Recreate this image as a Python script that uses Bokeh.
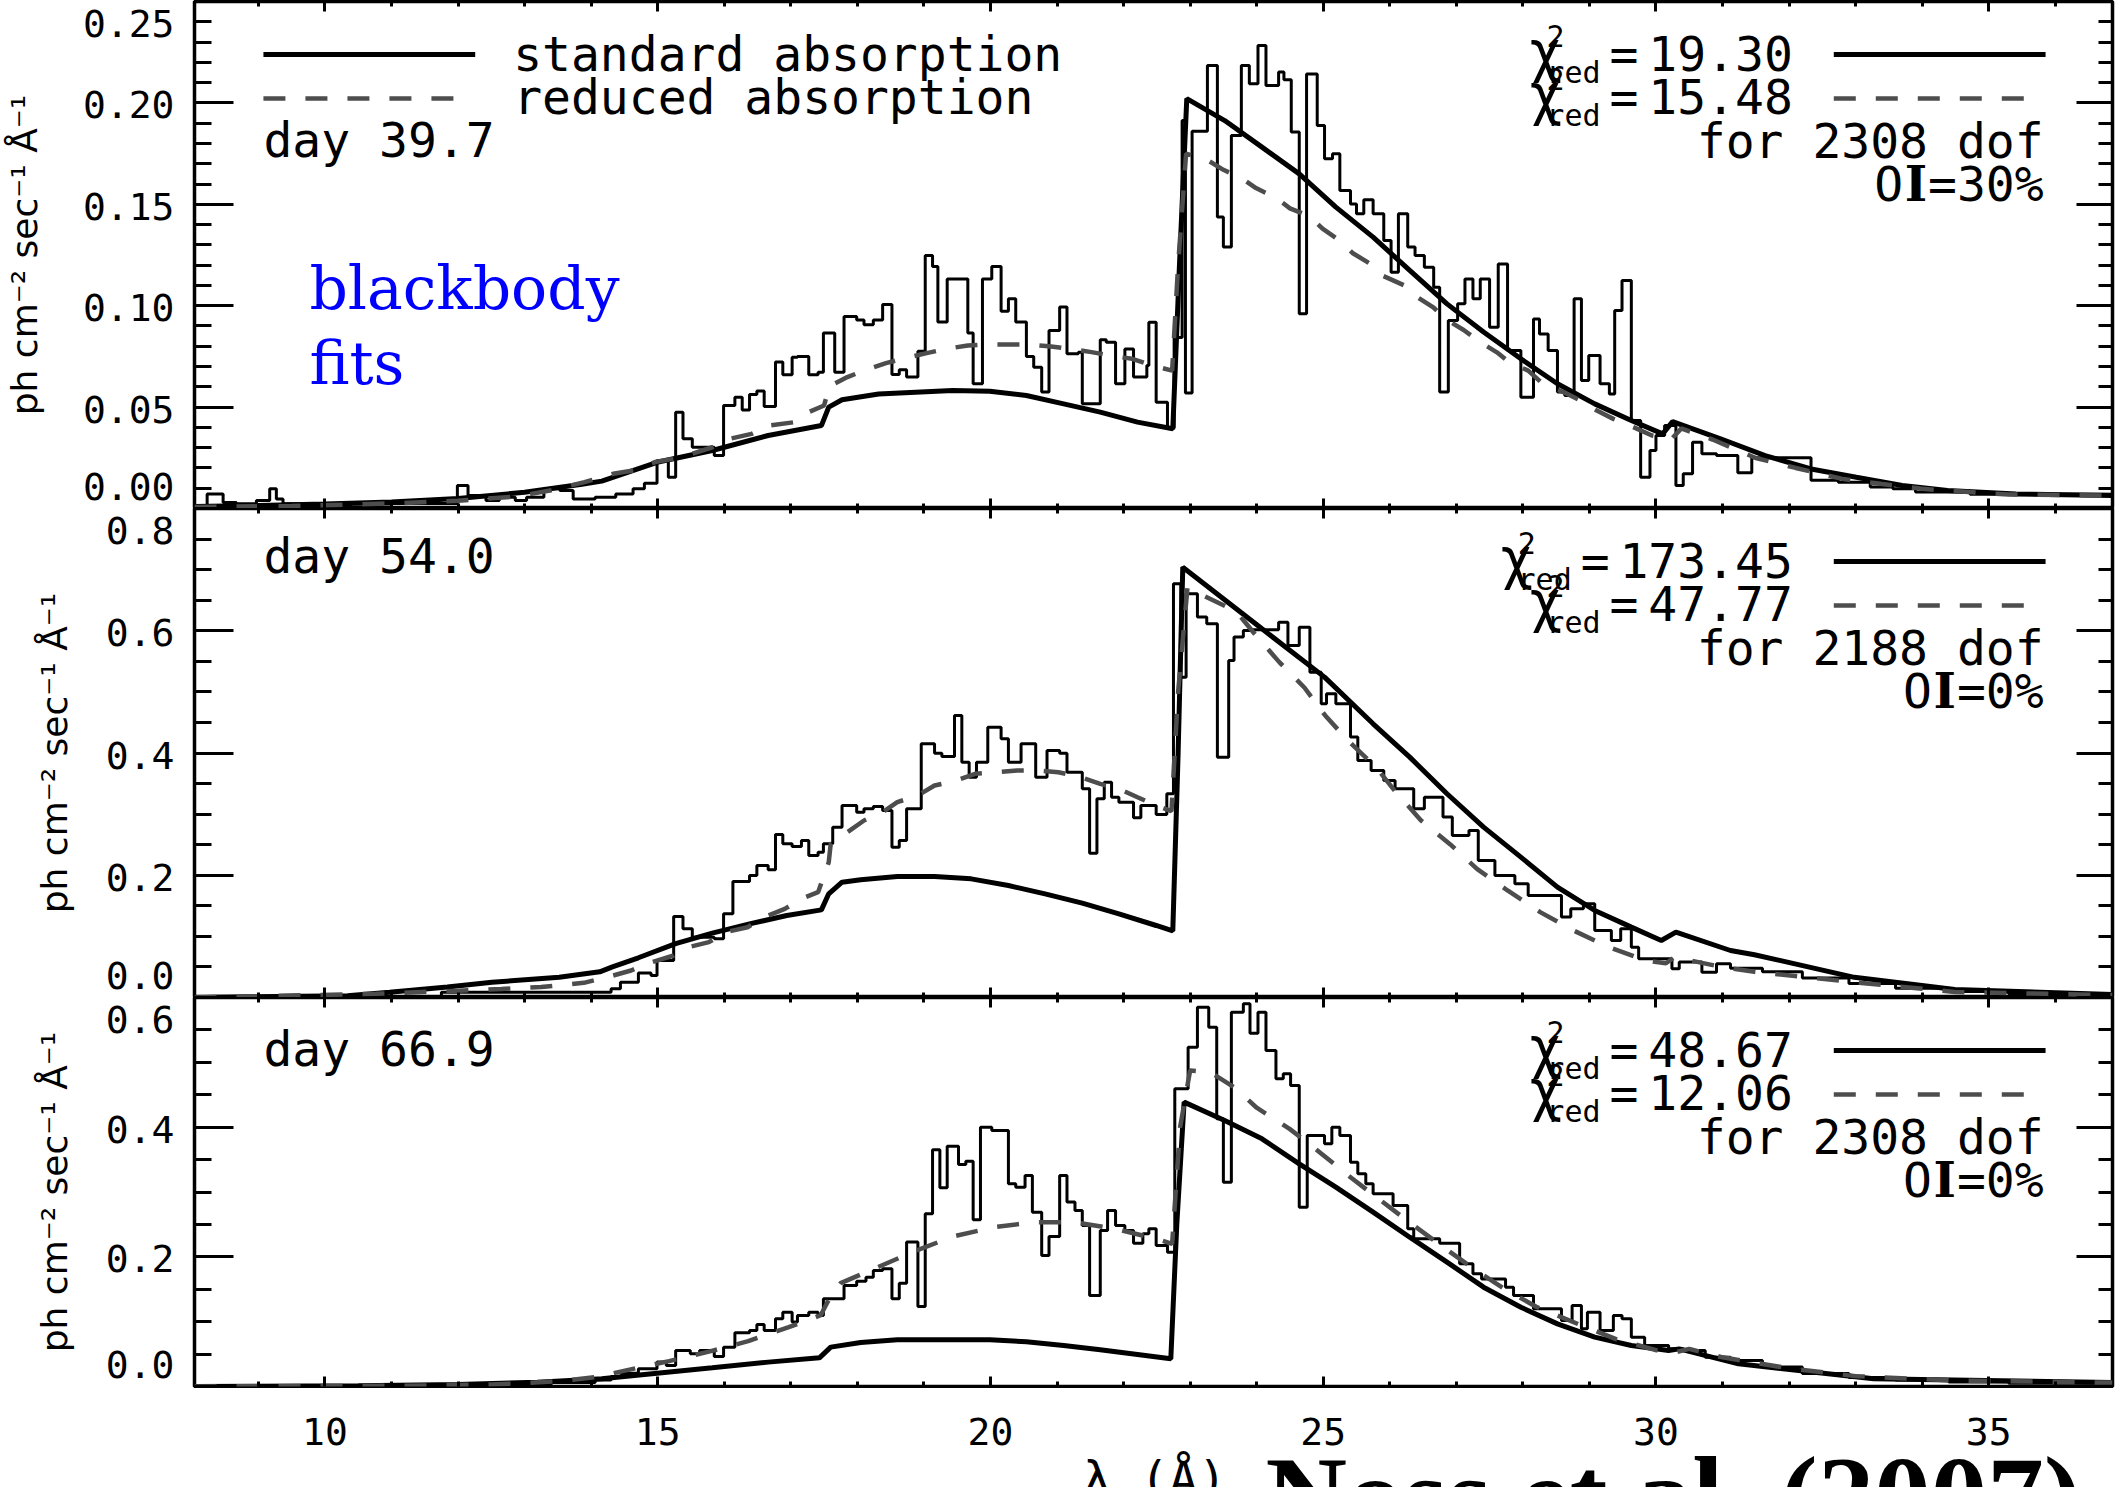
from bokeh.plotting import figure
from bokeh.models import Range1d, LinearAxis, FixedTicker, Label
from bokeh.core.properties import value
from bokeh.layouts import column
from bokeh.embed import file_html
from bokeh.resources import INLINE

# ------------------------------------------------------------------
# Wavelength axis (Angstrom)
# ------------------------------------------------------------------
wave_min, wave_max = 8.04, 36.86
wave_ticks = [10, 15, 20, 25, 30, 35]
wave_tick_labels = ["10", "15", "20", "25", "30", "35"]
wave_minor = [9, 11, 12, 13, 14, 16, 17, 18, 19, 21, 22, 23, 24,
              26, 27, 28, 29, 31, 32, 33, 34, 36]

# ------------------------------------------------------------------
# Day 39.7 : observed spectrum (bin start, flux) and the two models
# ------------------------------------------------------------------
d1_spectrum = [
    (8.04, 0.0008), (8.23, 0.0071), (8.47, 0.0030), (8.67, 0.0023), (8.97, 0.0040),
    (9.17, 0.0097), (9.27, 0.0047), (9.37, 0.0023), (9.80, 0.0020), (10.40, 0.0022),
    (11.00, 0.0025), (11.99, 0.0113), (12.15, 0.0064), (12.42, 0.0040), (12.62, 0.0056),
    (12.86, 0.0040), (13.03, 0.0056), (13.29, 0.0097), (13.53, 0.0089), (13.73, 0.0047),
    (14.06, 0.0056), (14.37, 0.0071), (14.63, 0.0097), (14.80, 0.0125), (14.99, 0.0237),
    (15.16, 0.0154), (15.27, 0.0475), (15.38, 0.0344), (15.52, 0.0302), (15.85, 0.0261),
    (15.99, 0.0508), (16.16, 0.0549), (16.27, 0.0486), (16.38, 0.0562), (16.49, 0.0579),
    (16.60, 0.0503), (16.77, 0.0722), (16.88, 0.0659), (17.02, 0.0746), (17.10, 0.0750),
    (17.27, 0.0659), (17.41, 0.0672), (17.49, 0.0865), (17.66, 0.0672), (17.80, 0.0947),
    (17.99, 0.0930), (18.10, 0.0906), (18.24, 0.0930), (18.38, 0.1006), (18.52, 0.0661),
    (18.63, 0.0684), (18.74, 0.0648), (18.91, 0.0776), (19.02, 0.1248), (19.13, 0.1193),
    (19.21, 0.0920), (19.35, 0.1132), (19.66, 0.0865), (19.74, 0.0615), (19.88, 0.1132),
    (20.02, 0.1193), (20.16, 0.0973), (20.27, 0.1034), (20.38, 0.0920), (20.54, 0.0750),
    (20.65, 0.0697), (20.77, 0.0574), (20.88, 0.0878), (21.04, 0.0993), (21.15, 0.0763),
    (21.32, 0.0771), (21.38, 0.0516), (21.65, 0.0832), (21.74, 0.0820), (21.88, 0.0615),
    (22.02, 0.0787), (22.15, 0.0648), (22.35, 0.0705), (22.38, 0.0919), (22.49, 0.0524),
    (22.66, 0.0400), (22.76, 0.0843), (22.88, 0.1913), (22.93, 0.0570), (23.03, 0.1860),
    (23.26, 0.2184), (23.41, 0.1437), (23.50, 0.1289), (23.62, 0.1839), (23.77, 0.2184),
    (23.89, 0.2094), (24.02, 0.2283), (24.14, 0.2086), (24.33, 0.2152), (24.41, 0.2114),
    (24.52, 0.1856), (24.64, 0.0960), (24.75, 0.2143), (24.91, 0.1889), (25.02, 0.1724),
    (25.14, 0.1749), (25.25, 0.1568), (25.41, 0.1502), (25.50, 0.1453), (25.61, 0.1522),
    (25.75, 0.1453), (25.91, 0.1321), (26.02, 0.1165), (26.13, 0.1453), (26.27, 0.1289),
    (26.38, 0.1248), (26.52, 0.1190), (26.66, 0.1091), (26.75, 0.0574), (26.88, 0.0927),
    (27.02, 0.1009), (27.13, 0.1132), (27.25, 0.1034), (27.36, 0.1132), (27.50, 0.0894),
    (27.63, 0.1206), (27.77, 0.0779), (27.97, 0.0549), (28.16, 0.0935), (28.25, 0.0861),
    (28.38, 0.0779), (28.52, 0.0574), (28.63, 0.0557), (28.77, 0.1034), (28.88, 0.0631),
    (28.99, 0.0755), (29.16, 0.0615), (29.30, 0.0565), (29.38, 0.0976), (29.49, 0.1124),
    (29.63, 0.0434), (29.77, 0.0154), (29.91, 0.0286), (30.00, 0.0360), (30.13, 0.0409),
    (30.30, 0.0113), (30.41, 0.0171), (30.55, 0.0327), (30.69, 0.0270), (30.91, 0.0261),
    (31.23, 0.0176), (31.44, 0.0250), (32.33, 0.0139), (32.74, 0.0130), (33.22, 0.0106),
    (33.56, 0.0097), (33.90, 0.0081), (34.72, 0.0070),
]
d1_std_wave = [8.04, 9.00, 10.00, 11.00, 12.00, 13.00, 13.86, 14.16, 14.99, 15.82, 16.66,
               17.46, 17.57, 17.77, 18.32, 19.43, 19.99, 20.54, 21.10, 21.65, 22.21, 22.74,
               22.84, 22.95, 23.52, 24.08, 24.64, 25.19, 25.75, 26.30, 26.86, 27.41, 27.97,
               28.52, 29.08, 29.63, 30.10, 30.25, 30.96, 31.64, 32.33, 33.01, 33.70, 34.38,
               35.41, 36.86]
d1_std_flux = [0.0010, 0.0015, 0.0022, 0.0032, 0.0049, 0.0080, 0.0120, 0.0135, 0.0228, 0.0286,
               0.0360, 0.0409, 0.0500, 0.0536, 0.0565, 0.0582, 0.0578, 0.0557, 0.0516, 0.0475,
               0.0426, 0.0393, 0.1200, 0.2021, 0.1913, 0.1782, 0.1650, 0.1486, 0.1338, 0.1174,
               0.1009, 0.0870, 0.0738, 0.0615, 0.0516, 0.0434, 0.0368, 0.0428, 0.0345, 0.0261,
               0.0195, 0.0154, 0.0113, 0.0089, 0.0072, 0.0064]
d1_red_wave = [8.04, 9.50, 11.00, 12.00, 12.90, 13.40, 13.90, 14.33, 14.68, 14.96, 15.24,
               15.52, 15.82, 16.07, 16.41, 16.68, 17.04, 17.27, 17.50, 17.58, 17.85, 18.10,
               18.43, 18.74, 19.04, 19.35, 19.66, 19.96, 20.57, 20.88, 21.18, 21.52, 21.79,
               22.13, 22.43, 22.73, 22.82, 22.94, 23.25, 23.50, 23.77, 23.99, 24.30, 24.50,
               24.80, 24.99, 25.25, 25.44, 25.69, 25.88, 26.22, 26.38, 26.66, 26.86, 27.11,
               27.36, 27.61, 27.80, 28.08, 28.30, 28.61, 28.86, 29.11, 29.36, 29.66, 29.94,
               30.24, 30.38, 30.85, 31.50, 32.10, 32.80, 33.40, 34.00, 34.70, 35.30, 36.86]
d1_red_flux = [0.0008, 0.0012, 0.0025, 0.0038, 0.0060, 0.0090, 0.0130, 0.0171, 0.0190, 0.0229,
               0.0245, 0.0270, 0.0302, 0.0343, 0.0368, 0.0409, 0.0425, 0.0475, 0.0508, 0.0602,
               0.0648, 0.0680, 0.0717, 0.0743, 0.0766, 0.0788, 0.0804, 0.0809, 0.0809, 0.0800,
               0.0788, 0.0771, 0.0755, 0.0738, 0.0705, 0.0680, 0.1200, 0.1750, 0.1720, 0.1670,
               0.1630, 0.1580, 0.1530, 0.1480, 0.1440, 0.1380, 0.1320, 0.1260, 0.1210, 0.1150,
               0.1100, 0.1050, 0.0990, 0.0930, 0.0880, 0.0820, 0.0770, 0.0720, 0.0680, 0.0615,
               0.0574, 0.0533, 0.0483, 0.0442, 0.0401, 0.0360, 0.0344, 0.0395, 0.0340, 0.0249,
               0.0200, 0.0146, 0.0121, 0.0097, 0.0081, 0.0069, 0.0064]
d1_flux_ticks = [0.0, 0.05, 0.10, 0.15, 0.20, 0.25]
d1_flux_labels = ["0.00", "0.05", "0.10", "0.15", "0.20", "0.25"]
d1_flux_minor = [0.01, 0.02, 0.03, 0.04, 0.06, 0.07, 0.08, 0.09, 0.11, 0.12, 0.13, 0.14,
                 0.16, 0.17, 0.18, 0.19, 0.21, 0.22, 0.23, 0.24]

# ------------------------------------------------------------------
# Day 54.0
# ------------------------------------------------------------------
d2_spectrum = [
    (8.04, 0.0010), (11.75, 0.0087), (14.30, 0.0142), (14.44, 0.0251), (14.71, 0.0400),
    (14.90, 0.0360), (14.99, 0.0605), (15.24, 0.1325), (15.38, 0.1123), (15.52, 0.0987),
    (15.85, 0.0960), (15.99, 0.1369), (16.13, 0.1898), (16.38, 0.1996), (16.49, 0.2160),
    (16.66, 0.2089), (16.77, 0.2667), (16.88, 0.2514), (17.02, 0.2470), (17.16, 0.2568),
    (17.27, 0.2323), (17.41, 0.2378), (17.49, 0.2514), (17.63, 0.2787), (17.77, 0.3141),
    (17.99, 0.3032), (18.10, 0.3087), (18.24, 0.3125), (18.38, 0.3059), (18.52, 0.2459),
    (18.63, 0.2568), (18.74, 0.3087), (18.96, 0.4150), (19.16, 0.3997), (19.27, 0.3943),
    (19.46, 0.4613), (19.57, 0.3850), (19.68, 0.3605), (19.79, 0.3850), (19.96, 0.4423),
    (20.16, 0.4232), (20.27, 0.3850), (20.46, 0.4150), (20.68, 0.3605), (20.85, 0.4041),
    (21.04, 0.3997), (21.15, 0.3686), (21.38, 0.3414), (21.49, 0.2361), (21.60, 0.3250),
    (21.71, 0.3523), (21.82, 0.3277), (21.93, 0.3196), (22.15, 0.2939), (22.26, 0.3141),
    (22.49, 0.2994), (22.65, 0.3333), (22.75, 0.6770), (22.86, 0.5240), (22.94, 0.6604),
    (23.11, 0.6223), (23.25, 0.6114), (23.41, 0.3932), (23.58, 0.5514), (23.66, 0.5896),
    (23.80, 0.6005), (23.94, 0.6016), (24.33, 0.6141), (24.47, 0.5759), (24.64, 0.6059),
    (24.80, 0.5323), (24.97, 0.4805), (25.05, 0.4969), (25.19, 0.4805), (25.41, 0.4260),
    (25.52, 0.3878), (25.72, 0.3714), (25.91, 0.3551), (26.08, 0.3414), (26.36, 0.3087),
    (26.52, 0.3278), (26.80, 0.2951), (26.94, 0.2651), (27.19, 0.2733), (27.33, 0.2242),
    (27.58, 0.1996), (27.88, 0.1860), (28.08, 0.1669), (28.58, 0.1315), (28.72, 0.1451),
    (28.91, 0.1533), (29.08, 0.1097), (29.33, 0.0933), (29.47, 0.1124), (29.63, 0.0824),
    (29.74, 0.0633), (30.24, 0.0469), (30.35, 0.0579), (30.69, 0.0415), (30.91, 0.0551),
    (31.12, 0.0480), (31.60, 0.0420), (32.20, 0.0320), (32.90, 0.0230), (33.60, 0.0150),
    (34.40, 0.0100), (35.30, 0.0060), (36.00, 0.0040),
]
d2_std_wave = [8.04, 10.34, 10.97, 11.84, 12.51, 13.52, 14.13, 14.32, 14.71, 15.27, 15.82,
               16.38, 16.94, 17.46, 17.57, 17.77, 18.05, 18.60, 19.16, 19.71, 20.27, 20.82,
               21.38, 21.93, 22.49, 22.74, 22.82, 22.89, 24.08, 25.02, 25.75, 26.30, 26.86,
               27.41, 27.97, 28.52, 29.08, 29.63, 30.08, 30.30, 31.12, 31.48, 32.98, 34.49,
               36.86]
d2_std_flux = [0.0000, 0.0030, 0.0087, 0.0170, 0.0250, 0.0330, 0.0420, 0.0500, 0.0650, 0.0880,
               0.1052, 0.1205, 0.1341, 0.1434, 0.1696, 0.1887, 0.1925, 0.1980, 0.1980, 0.1941,
               0.1832, 0.1696, 0.1543, 0.1369, 0.1178, 0.1090, 0.4000, 0.7040, 0.6032, 0.5241,
               0.4478, 0.3932, 0.3333, 0.2787, 0.2296, 0.1806, 0.1424, 0.1151, 0.0933, 0.1069,
               0.0769, 0.0700, 0.0330, 0.0130, 0.0050]
d2_red_wave = [8.04, 10.77, 11.37, 12.01, 12.65, 13.25, 13.89, 14.30, 14.60, 14.91, 15.24,
               15.46, 15.77, 16.02, 16.35, 16.60, 16.91, 17.16, 17.41, 17.49, 17.57, 17.60,
               17.85, 18.10, 18.38, 18.60, 18.91, 19.16, 19.49, 19.77, 20.10, 20.40, 20.71,
               21.02, 21.35, 21.65, 21.93, 22.21, 22.49, 22.72, 22.82, 22.96, 23.69, 24.00,
               24.34, 24.72, 25.03, 25.38, 25.80, 26.10, 26.47, 26.91, 27.31, 27.77, 28.26,
               28.76, 29.29, 29.84, 30.15, 30.28, 31.00, 31.48, 32.98, 34.49, 36.86]
d2_red_flux = [0.0000, 0.0060, 0.0087, 0.0110, 0.0140, 0.0170, 0.0240, 0.0350, 0.0442, 0.0578,
               0.0687, 0.0823, 0.0905, 0.1069, 0.1150, 0.1314, 0.1450, 0.1614, 0.1723, 0.1969,
               0.2214, 0.2514, 0.2705, 0.2896, 0.3032, 0.3196, 0.3305, 0.3468, 0.3550, 0.3659,
               0.3686, 0.3714, 0.3714, 0.3686, 0.3605, 0.3496, 0.3414, 0.3277, 0.3141, 0.3050,
               0.5000, 0.6700, 0.6320, 0.5910, 0.5487, 0.5067, 0.4614, 0.4194, 0.3758, 0.3349,
               0.2896, 0.2504, 0.2105, 0.1751, 0.1397, 0.1097, 0.0824, 0.0606, 0.0560, 0.0660,
               0.0497, 0.0420, 0.0250, 0.0090, 0.0040]
d2_flux_ticks = [0.0, 0.2, 0.4, 0.6, 0.8]
d2_flux_labels = ["0.0", "0.2", "0.4", "0.6", "0.8"]
d2_flux_minor = [0.05, 0.10, 0.15, 0.25, 0.30, 0.35, 0.45, 0.50, 0.55, 0.65, 0.70, 0.75]

# ------------------------------------------------------------------
# Day 66.9
# ------------------------------------------------------------------
d3_spectrum = [
    (8.04, 0.0010), (12.80, 0.0030), (13.40, 0.0060), (14.06, 0.0100), (14.30, 0.0155),
    (14.46, 0.0206), (14.71, 0.0273), (14.99, 0.0376), (15.13, 0.0324), (15.27, 0.0555),
    (15.49, 0.0504), (15.63, 0.0555), (15.85, 0.0463), (15.99, 0.0607), (16.16, 0.0828),
    (16.38, 0.0864), (16.49, 0.0957), (16.60, 0.0864), (16.77, 0.1044), (16.88, 0.1147),
    (17.02, 0.0993), (17.10, 0.1095), (17.27, 0.1147), (17.41, 0.1095), (17.49, 0.1352),
    (17.80, 0.1558), (17.99, 0.1625), (18.13, 0.1687), (18.24, 0.1790), (18.38, 0.1815),
    (18.52, 0.1352), (18.63, 0.1594), (18.74, 0.2227), (18.91, 0.1234), (19.02, 0.2664),
    (19.13, 0.3651), (19.24, 0.3065), (19.35, 0.3707), (19.52, 0.3425), (19.63, 0.3476),
    (19.74, 0.2571), (19.85, 0.4000), (20.02, 0.3950), (20.27, 0.3126), (20.38, 0.3075),
    (20.52, 0.3255), (20.63, 0.2689), (20.77, 0.2021), (20.88, 0.2314), (21.04, 0.3255),
    (21.15, 0.2844), (21.27, 0.2715), (21.38, 0.2484), (21.49, 0.1404), (21.65, 0.2407),
    (21.76, 0.2715), (21.88, 0.2484), (22.02, 0.2407), (22.15, 0.2211), (22.29, 0.2355),
    (22.38, 0.2432), (22.49, 0.2175), (22.66, 0.2072), (22.77, 0.4591), (22.97, 0.5234),
    (23.11, 0.5851), (23.28, 0.5542), (23.40, 0.4129), (23.50, 0.3152), (23.62, 0.5774),
    (23.80, 0.5902), (23.90, 0.5450), (24.02, 0.5774), (24.14, 0.5183), (24.29, 0.4745),
    (24.40, 0.4823), (24.51, 0.4643), (24.64, 0.2766), (24.76, 0.3871), (25.02, 0.3743),
    (25.13, 0.4000), (25.25, 0.3871), (25.41, 0.3460), (25.52, 0.3280), (25.64, 0.3126),
    (25.75, 0.2972), (26.05, 0.2792), (26.27, 0.2432), (26.36, 0.2277), (26.75, 0.2211),
    (27.05, 0.1892), (27.25, 0.1738), (27.38, 0.1660), (27.74, 0.1532), (27.86, 0.1403),
    (28.16, 0.1198), (28.58, 0.1018), (28.74, 0.1249), (28.88, 0.0889), (28.97, 0.1146),
    (29.16, 0.0864), (29.36, 0.1095), (29.49, 0.1044), (29.63, 0.0761), (29.83, 0.0632),
    (30.19, 0.0581), (30.41, 0.0555), (30.74, 0.0452), (31.12, 0.0400), (31.60, 0.0300),
    (32.20, 0.0200), (32.90, 0.0140), (33.60, 0.0100), (34.40, 0.0070), (35.30, 0.0050),
]
d3_std_wave = [8.04, 10.50, 12.00, 13.19, 14.16, 14.99, 15.82, 16.66, 17.43, 17.60, 18.05,
               18.60, 19.43, 19.99, 20.54, 21.10, 21.65, 22.21, 22.71, 22.80, 22.91, 23.52,
               24.08, 24.64, 25.19, 25.75, 26.30, 26.86, 27.41, 27.97, 28.52, 29.08, 29.63,
               30.19, 30.35, 31.24, 33.27, 36.86]
d3_std_flux = [0.0000, 0.0010, 0.0030, 0.0067, 0.0118, 0.0206, 0.0288, 0.0376, 0.0442, 0.0607,
               0.0679, 0.0720, 0.0720, 0.0720, 0.0689, 0.0633, 0.0566, 0.0494, 0.0427, 0.2500,
               0.4386, 0.4103, 0.3820, 0.3434, 0.3075, 0.2689, 0.2303, 0.1918, 0.1532, 0.1223,
               0.0966, 0.0761, 0.0632, 0.0555, 0.0580, 0.0350, 0.0120, 0.0060]
d3_red_wave = [8.04, 11.00, 12.50, 13.50, 14.10, 14.56, 15.17, 15.80, 16.36, 16.97, 17.45,
               17.55, 17.75, 18.33, 18.89, 19.44, 20.05, 20.67, 21.29, 21.90, 22.51, 22.73,
               22.85, 23.00, 23.30, 23.67, 24.00, 24.50, 24.95, 25.42, 25.85, 26.30, 26.75,
               27.20, 27.70, 28.20, 28.85, 29.40, 30.00, 30.30, 30.50, 31.00, 32.00, 33.00,
               34.50, 36.86]
d3_red_flux = [0.0000, 0.0010, 0.0030, 0.0080, 0.0150, 0.0257, 0.0391, 0.0545, 0.0699, 0.0915,
               0.1100, 0.1300, 0.1594, 0.1851, 0.2098, 0.2314, 0.2458, 0.2535, 0.2530, 0.2427,
               0.2273, 0.2200, 0.4000, 0.4874, 0.4850, 0.4610, 0.4300, 0.3970, 0.3610, 0.3220,
               0.2880, 0.2530, 0.2190, 0.1860, 0.1520, 0.1230, 0.0955, 0.0730, 0.0560, 0.0530,
               0.0580, 0.0450, 0.0280, 0.0160, 0.0090, 0.0060]
d3_flux_ticks = [0.0, 0.2, 0.4, 0.6]
d3_flux_labels = ["0.0", "0.2", "0.4", "0.6"]
d3_flux_minor = [0.05, 0.10, 0.15, 0.25, 0.30, 0.35, 0.45, 0.50, 0.55]

# fit statistics shown in each panel
days = ["day 39.7", "day 54.0", "day 66.9"]
chi2_standard = ["19.30", "173.45", "48.67"]
chi2_reduced = ["15.48", "47.77", "12.06"]
dof = ["2308", "2188", "2308"]
oi_fraction = ["30%", "0%", "0%"]

FLUX_TITLE = "ph cm\u207b\u00b2 sec\u207b\u00b9 \u00c5\u207b\u00b9"

# ------------------------------------------------------------------
# Page geometry
# ------------------------------------------------------------------
FIG_W = 2115
FRAME_L, FRAME_R = 192, 2112
PX_PER_A = (FRAME_R - FRAME_L) / (wave_max - wave_min)
MONO = "DejaVu Sans Mono"
TXT = 48           # annotation text size (px)
TXT_ADV = 0.602 * TXT
SMALL = 30
MID = 0.346        # baseline lies this many em below a "middle" anchor
EDGE = 22          # end tick labels are pulled this far inside their panel (px)
MODEL_GREY = "#4d4d4d"
BAND = "#c8c8f2"


def wx(px):
    """Horizontal page pixel -> wavelength."""
    return wave_min + (px - FRAME_L) / PX_PER_A


HIDDEN = dict(major_label_text_color=None, major_label_text_font_size="0px",
              major_label_standoff=0)


def base_figure(height, top, bottom, y_max):
    p = figure(width=FIG_W, height=height,
               x_range=Range1d(wave_min, wave_max), y_range=Range1d(0, y_max),
               output_backend="svg", toolbar_location=None,
               x_axis_location=None, y_axis_location=None,
               min_border_left=FRAME_L, min_border_right=FIG_W - FRAME_R,
               min_border_top=top, min_border_bottom=bottom)
    p.grid.visible = False
    p.background_fill_color = "white"
    p.border_fill_color = "white"
    return p


def build_panel(idx, fig_h, top, bottom, flux_max, ticks, labels, minor,
                spectrum, std_w, std_f, red_w, red_f, title_standoff):
    frame_h = fig_h - top - bottom
    per_px = flux_max / frame_h

    def fy(px):
        return flux_max - px * per_px

    p = base_figure(fig_h, top, bottom, flux_max)
    p.outline_line_color = "black"
    p.outline_line_width = 3.5

    ticks_only = dict(axis_line_color=None, major_tick_out=0, minor_tick_out=0,
                      major_tick_line_width=3, minor_tick_line_width=3,
                      major_tick_line_color="black", minor_tick_line_color="black", **HIDDEN)
    yt = FixedTicker(ticks=ticks, minor_ticks=minor)
    xt = FixedTicker(ticks=wave_ticks, minor_ticks=wave_minor)
    p.add_layout(LinearAxis(ticker=yt, major_tick_in=39, minor_tick_in=17, **ticks_only), "left")

    # flux tick labels; the end labels sit just inside the panel
    label_pos = []
    for i, t in enumerate(ticks):
        shift = 2
        if i == 0:
            shift = -EDGE
        elif i == len(ticks) - 1:
            shift = EDGE
        label_pos.append(t - shift * per_px)
    p.add_layout(LinearAxis(
        ticker=FixedTicker(ticks=label_pos, minor_ticks=[]),
        axis_line_color=None, major_tick_line_color=None, minor_tick_line_color=None,
        major_tick_in=0, major_tick_out=0, minor_tick_in=0, minor_tick_out=0,
        major_label_standoff=20, major_label_text_font=MONO, major_label_text_font_size="38px",
        major_label_text_color="black",
        major_label_overrides={pos: lab for pos, lab in zip(label_pos, labels)},
        axis_label=FLUX_TITLE, axis_label_standoff=title_standoff,
        axis_label_text_font="DejaVu Sans", axis_label_text_font_size="36px",
        axis_label_text_font_style="normal", axis_label_text_color="black"), "left")

    p.add_layout(LinearAxis(ticker=yt, major_tick_in=36, minor_tick_in=14, **ticks_only), "right")
    p.add_layout(LinearAxis(ticker=xt, major_tick_in=10, minor_tick_in=5, **ticks_only), "above")
    p.add_layout(LinearAxis(ticker=xt, major_tick_in=10, minor_tick_in=5, **ticks_only), "below")

    # observed spectrum
    lo = [b for b, _ in spectrum]
    cnt = [c for _, c in spectrum]
    p.step(lo + [wave_max], cnt + [cnt[-1]], mode="after", line_color="black", line_width=3)
    # model fits
    p.line(std_w, std_f, line_color="black", line_width=5)
    p.line(red_w, red_f, line_color=MODEL_GREY, line_width=4.5, line_dash="22 20")

    def label(x_px, base_px, text, size=TXT, align="left", font=MONO, style="normal",
              color="black"):
        p.add_layout(Label(x=wx(x_px), y=fy(base_px - MID * size), text=text, text_font=font,
                           text_font_size=f"{size}px", text_align=align,
                           text_baseline="middle", text_font_style=style,
                           text_color=color))

    # right-hand fit statistics
    p.line([wx(1833), wx(2045)], [fy(53), fy(53)], line_color="black", line_width=5)
    p.line([wx(1833), wx(2027)], [fy(97), fy(97)], line_color=MODEL_GREY, line_width=4.5,
           line_dash="22 20")
    for val, base_px in ((chi2_standard[idx], 69), (chi2_reduced[idx], 112)):
        num_left = 1792 - TXT_ADV * len(val)
        label(1792, base_px, val, align="right")
        label(num_left - 10, base_px, "=", align="right")
        label(num_left - 48, base_px + 12, "red", size=SMALL, align="right")
        label(num_left - 86, base_px, "\u03c7", size=56, align="right")
        label(num_left - 102, base_px - 24, "2", size=SMALL)
    label(2043, 156, f"for {dof[idx]} dof", align="right")
    rest = "=" + oi_fraction[idx]
    rest_left = 2043 - TXT_ADV * len(rest)
    label(2043, 199, rest, align="right")
    label(rest_left - 1, 199, "I", align="right", font="DejaVu Serif", style="bold")
    label(rest_left - 25, 199, "O", align="right")

    return p, fy, label


p1, fy1, label1 = build_panel(0, 508, 1, 0, 0.25, d1_flux_ticks, d1_flux_labels, d1_flux_minor,
                              d1_spectrum, d1_std_wave, d1_std_flux, d1_red_wave, d1_red_flux,
                              35)
p2, fy2, label2 = build_panel(1, 489, 0, 0, 0.8, d2_flux_ticks, d2_flux_labels, d2_flux_minor,
                              d2_spectrum, d2_std_wave, d2_std_flux, d2_red_wave, d2_red_flux,
                              28)
p3, fy3, label3 = build_panel(2, 391, 0, 2, 0.6, d3_flux_ticks, d3_flux_labels, d3_flux_minor,
                              d3_spectrum, d3_std_wave, d3_std_flux, d3_red_wave, d3_red_flux,
                              28)

# legend of the two absorption models (top panel)
p1.line([wx(261), wx(473)], [fy1(53), fy1(53)], line_color="black", line_width=5)
p1.line([wx(261), wx(452)], [fy1(97), fy1(97)], line_color=MODEL_GREY, line_width=4.5,
        line_dash="22 20")
label1(511, 69, "standard absorption")
label1(511, 112, "reduced absorption")
label1(261, 155, days[0])
label1(307, 307, "blackbody", size=60, font="DejaVu Serif", color="#0000ff")
label1(307, 382, "fits", size=60, font="DejaVu Serif", color="#0000ff")
label2(261, 64, days[1])
label3(261, 68, days[2])

# ------------------------------------------------------------------
# Strip under the bottom panel: wavelength labels, axis title, citation
# ------------------------------------------------------------------
STRIP_H = 99
p4 = base_figure(STRIP_H, 0, 0, STRIP_H)
p4.outline_line_color = None
p4.text(x=wave_ticks, y=[STRIP_H - 43] * len(wave_ticks), text=wave_tick_labels,
        text_font=value(MONO), text_font_size=value("38px"), text_align="center",
        text_baseline="middle", text_color="black")
p4.add_layout(Label(x=wx(1153), y=(STRIP_H - 107) + MID * TXT, text="\u03bb (\u00c5)",
                    text_font=MONO, text_font_size=f"{TXT}px", text_align="center",
                    text_baseline="middle", text_color="black"))
p4.add_layout(Label(x=wx(1264), y=(STRIP_H - 145) + 0.34 * 113, text="Noss et al. (2007)",
                    text_font="Liberation Serif", text_font_style="bold",
                    text_font_size="113px", text_baseline="middle", text_color="black"))

# thin coloured rule along the very bottom of the page
p5 = base_figure(5, 0, 0, 1)
p5.outline_line_color = None
p5.background_fill_color = BAND
p5.border_fill_color = BAND

layout = column(p1, p2, p3, p4, p5, spacing=0)
open("out.html", "w").write(file_html(layout, INLINE))
